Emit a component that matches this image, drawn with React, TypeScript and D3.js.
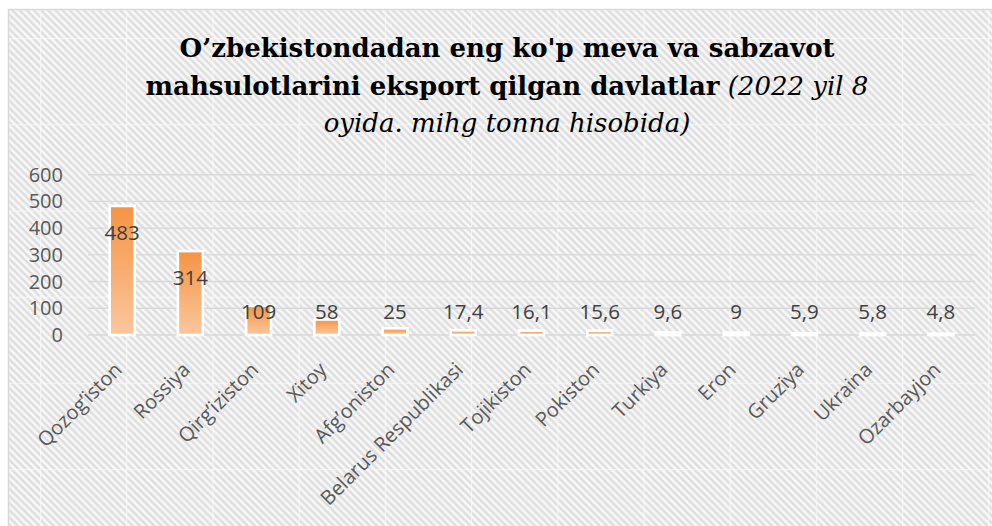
import React from "react";
import * as d3 from "d3";

const categories = ["Qozog’iston", "Rossiya", "Qirg’iziston", "Xitoy", "Afg’oniston", "Belarus Respublikasi", "Tojikiston", "Pokiston", "Turkiya", "Eron", "Gruziya", "Ukraina", "Ozarbayjon"];
const values = [483, 314, 109, 58, 25, 17.4, 16.1, 15.6, 9.6, 9, 5.9, 5.8, 4.8];
const valueLabels = ["483", "314", "109", "58", "25", "17,4", "16,1", "15,6", "9,6", "9", "5,9", "5,8", "4,8"];
const yTicks = [0, 100, 200, 300, 400, 500, 600];
const titleLine1 = "O’zbekistondadan eng ko'p meva va sabzavot";
const titleLine2Bold = "mahsulotlarini eksport qilgan davlatlar";
const titleLine2Italic = " (2022 yil 8";
const titleLine3 = "oyida. mihg tonna hisobida)";

const W = 992, H = 526;
const plot = { left: 88, right: 975, top: 174.7, bottom: 335 };

export default function App() {
  const x = d3.scaleBand<string>().domain(categories).range([plot.left, plot.right]).paddingInner(0.635).paddingOuter(0.3175);
  const y = d3.scaleLinear().domain([0, 600]).range([plot.bottom, plot.top]);
  const tile = 86.2;
  const pitch = tile / 12;
  const stripes: number[] = d3.range(-12, 13).map((i) => i * pitch);
  const titleX = 507;
  const serif = "'DejaVu Serif', serif";
  const sans = "'Open Sans', sans-serif";
  return (
    <svg width={W} height={H} style={{ position: "absolute", left: 0, top: 0, background: "#fff" }}>
      <defs>
        <pattern id="bgp" patternUnits="userSpaceOnUse" x={40} y={38} width={tile} height={tile}>
          <rect width={tile} height={tile} fill="#f8f8f8" />
          {stripes.map((s, i) => (
            <line key={i} x1={s - 10} y1={-10} x2={s + tile + 10} y2={tile + 10} stroke="#dedede" strokeWidth={2.5} />
          ))}
          <rect x={0} y={0} width={1.2} height={tile} fill="#fafafa" opacity={0.7} />
          <rect x={0} y={0} width={tile} height={1.2} fill="#fafafa" opacity={0.7} />
        </pattern>
        <linearGradient id="barg" x1="0" y1="0" x2="0" y2="1">
          <stop offset="0" stopColor="#f59444" />
          <stop offset="1" stopColor="#fac79e" />
        </linearGradient>
      </defs>
      <rect x={8.5} y={9.5} width={1000} height={530} fill="url(#bgp)" stroke="#d9d9d9" strokeWidth={1.5} />
      <g fontFamily={serif} textAnchor="middle" fill="#000" fontSize={26}>
        <text x={titleX} y={57} fontWeight="bold">{titleLine1}</text>
        <text x={titleX} y={95}>
          <tspan fontWeight="bold">{titleLine2Bold}</tspan>
          <tspan fontStyle="italic">{titleLine2Italic}</tspan>
        </text>
        <text x={titleX} y={132} fontStyle="italic">{titleLine3}</text>
      </g>
      <g>
        {yTicks.map((t) => (
          <g key={t}>
            <line x1={plot.left} x2={plot.right} y1={y(t)} y2={y(t)} stroke="#d9d9d9" strokeWidth={1.4} />
            <text x={63} y={y(t)} dy="0.35em" textAnchor="end" fontFamily={sans} fontSize={20} fill="#595959">{t}</text>
          </g>
        ))}
      </g>
      <g>
        {categories.map((c, i) => {
          const v = values[i];
          const bx = x(c)!;
          const top = y(v);
          return (
            <rect key={c} x={bx} y={top} width={x.bandwidth()} height={Math.max(0, y(0) - top)} fill="url(#barg)" stroke="#fff" strokeWidth={2.6} />
          );
        })}
      </g>
      <g fontFamily={sans} fontSize={20.5} fill="#404040" textAnchor="middle">
        {categories.map((c, i) => {
          const cx = x(c)! + x.bandwidth() / 2;
          const cy = Math.min(y(values[i]) + 27, 312);
          return <text key={c} x={cx} y={cy} dy="0.35em">{valueLabels[i]}</text>;
        })}
      </g>
      <g fontFamily={sans} fontSize={20} fill="#595959" textAnchor="end">
        {categories.map((c) => {
          const cx = x(c)! + x.bandwidth() / 2;
          return <text key={c} transform={`translate(${cx + 1},${371}) rotate(-45)`}>{c}</text>;
        })}
      </g>
    </svg>
  );
}
